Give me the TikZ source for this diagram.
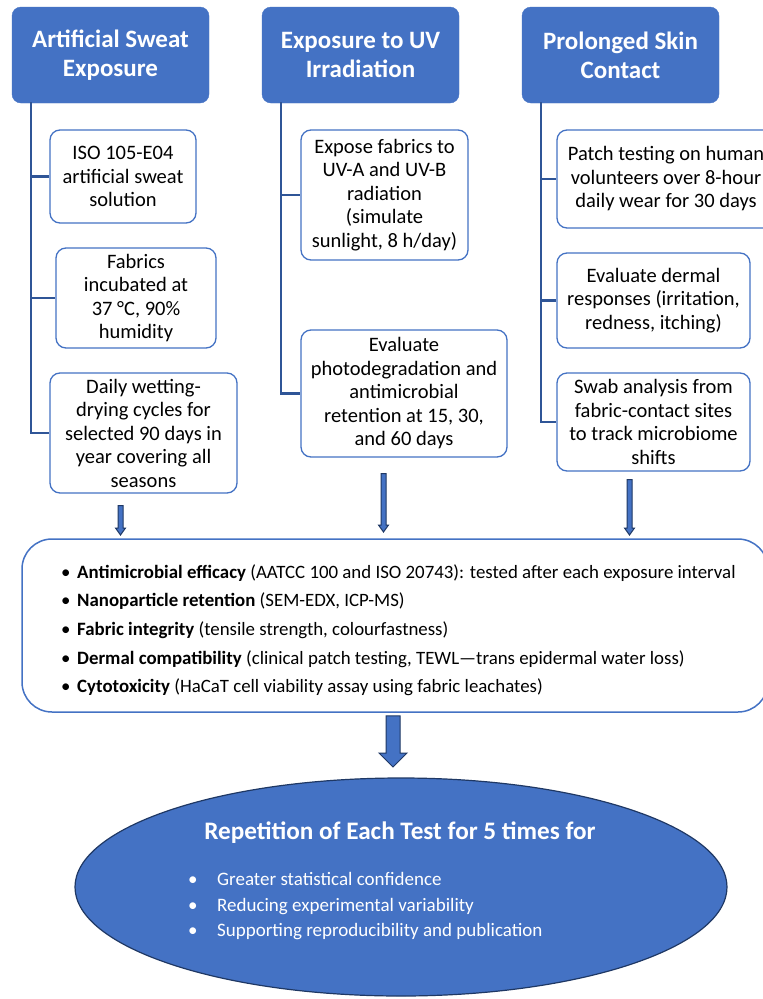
\documentclass[tikz,border=0pt]{standalone}
\usepackage{fontspec}
\setmainfont{Carlito}
\usetikzlibrary{calc,shapes.geometric}
\definecolor{hdr}{HTML}{4472C4}
\definecolor{edgeblue}{HTML}{4472C4}
\definecolor{connblue}{HTML}{2F5597}
\definecolor{navy}{HTML}{1F3864}
\newcommand\critbul{\makebox[16pt][l]{•}}
\tikzset{
  barrow/.style args={#1/#2/#3}{to path={let \p1=(\tikztostart), \p2=(\tikztotarget) in
    (\x1-#1,\y1) -- (\x1-#1,\y2+#3) -- (\x1-#2,\y2+#3) -- (\x1,\y2) -- (\x1+#2,\y2+#3) -- (\x1+#1,\y2+#3) -- (\x1+#1,\y1) -- cycle}},
  arrowsty/.style={fill=hdr, draw=navy, line width=1pt, line join=miter},
}
\begin{document}
\begin{tikzpicture}[x=1pt,y=-1pt,
  header/.style={draw=hdr, fill=hdr, rounded corners=9pt, minimum width=197pt, minimum height=96pt, text=white, font=\fontsize{25}{29}\selectfont\bfseries, align=center, inner sep=0pt},
  sub/.style={draw=edgeblue, line width=1.3pt, fill=white, rounded corners=10pt, align=center, font=\fontsize{20.5}{23.5}\selectfont, inner sep=0pt},
  connline/.style={draw=connblue, line width=2.4pt},
]
\useasboundingbox (0,0) rectangle (763,999);
\clip (0,0) rectangle (763,999);
\fill[white] (0,0) rectangle (763,999);

% headers
\node[header] (h1) at (110.5,55) {Artificial Sweat\\Exposure};
\node[header] (h2) at (360.5,55) {Exposure to UV\\Irradiation};
\node[header] (h3) at (620.5,55) {Prolonged Skin\\Contact};

% column 1 boxes
\node[sub, minimum width=146pt, minimum height=93pt] (a1) at (123,176.5) {ISO 105-E04\\artificial sweat\\solution};
\node[sub, minimum width=160pt, minimum height=100pt] (a2) at (136,298) {Fabrics\\incubated at\\37 °C, 90\%\\humidity};
\node[sub, minimum width=187pt, minimum height=120pt] (a3) at (143.5,433) {Daily wetting-\\drying cycles for\\selected 90 days in\\year covering all\\seasons};

% column 2 boxes
\node[sub, minimum width=167pt, minimum height=130pt] (b1) at (384.5,195) {Expose fabrics to\\UV-A and UV-B\\radiation\\(simulate\\sunlight, 8 h/day)};
\node[sub, minimum width=206pt, minimum height=127pt] (b2) at (404,393.5) {Evaluate\\photodegradation and\\antimicrobial\\retention at 15, 30,\\and 60 days};

% column 3 boxes
\node[sub, minimum width=218pt, minimum height=98pt] (c1) at (666,179) {Patch testing on human\\volunteers over 8-hour\\daily wear for 30 days};
\node[sub, minimum width=193pt, minimum height=95pt] (c2) at (653.5,300.5) {Evaluate dermal\\responses (irritation,\\redness, itching)};
\node[sub, minimum width=193pt, minimum height=98pt] (c3) at (653.5,422) {Swab analysis from\\fabric-contact sites\\to track microbiome\\shifts};

% connectors
\foreach \h/\b in {h1/a1,h1/a2,h1/a3,h2/b1,h2/b2,h3/c1,h3/c2,h3/c3}{
  \draw[connline] ([xshift=19pt,yshift=1pt]\h.south west) |- (\b.west);
}

% main criteria box
\node[draw=edgeblue, line width=1.5pt, fill=white, rounded corners=30pt, minimum width=746pt, minimum height=173pt, inner sep=0pt] (main) at (395,625.5) {};
\node[anchor=north west, align=left, inner sep=0pt, font=\fontsize{18.85}{28.6}\selectfont] (crit) at (61,564.3) {%
\critbul\textbf{Antimicrobial efficacy} (AATCC 100 and ISO 20743): tested after each exposure interval\\
\critbul\textbf{Nanoparticle retention} (SEM-EDX, ICP-MS)\\
\critbul\textbf{Fabric integrity} (tensile strength, colourfastness)\\
\critbul\textbf{Dermal compatibility} (clinical patch testing, TEWL—trans epidermal water loss)\\
\critbul\textbf{Cytotoxicity} (HaCaT cell viability assay using fabric leachates)};

% small arrows
\coordinate (t1) at (120.5,535);
\coordinate (t2) at (383.5,532);
\coordinate (t3) at (629.5,535);
\draw[arrowsty] ([xshift=-23pt,yshift=-12pt]a3.south) to[barrow=2.5pt/5pt/7pt] (t1);
\draw[arrowsty] ([xshift=-20.5pt,yshift=-16pt]b2.south) to[barrow=2.5pt/5pt/7pt] (t2);
\draw[arrowsty] ([xshift=-24pt,yshift=-8pt]c3.south) to[barrow=2.5pt/5pt/7pt] (t3);

% repetition ellipse
\node[ellipse, fill=hdr, draw=navy, line width=1.2pt, minimum width=652pt, minimum height=218pt, inner sep=0pt] (rep) at (401,887) {};
\node[text=white, font=\fontsize{25.2}{29}\selectfont\bfseries, inner sep=0pt, anchor=base] (reptitle) at (400,839.5) {Repetition of Each Test for 5 times for};
\node[text=white, anchor=north west, align=left, inner sep=0pt, font=\fontsize{19}{25.5}\selectfont] (replist) at (188,872.5) {%
\makebox[29pt][l]{•}Greater statistical confidence\\
\makebox[29pt][l]{•}Reducing experimental variability\\
\makebox[29pt][l]{•}Supporting reproducibility and publication};

% big arrow
\coordinate (t4) at (393,767);
\draw[arrowsty] ([xshift=-2pt,yshift=-3pt]main.south) to[barrow=7pt/14pt/14pt] (t4);
\end{tikzpicture}
\end{document}
